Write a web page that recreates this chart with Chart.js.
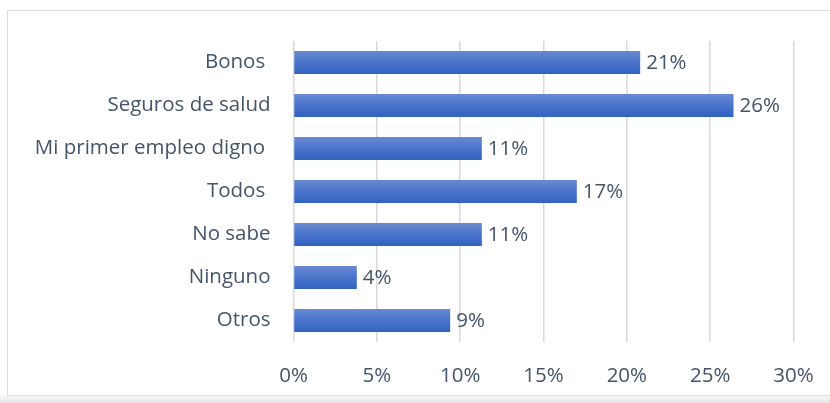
<!DOCTYPE html>
<html>
<head>
<meta charset="utf-8">
<script src="https://cdn.jsdelivr.net/npm/chart.js@4/dist/chart.umd.min.js"></script>
<style>
  html, body { margin: 0; padding: 0; background: #fff; overflow: hidden; }
  #wrap { width: 830px; height: 403px; position: relative; }
  canvas { display: block; }
</style>
</head>
<body>
<div id="wrap"><canvas id="chart"></canvas></div>
<script>
'use strict'

const categories = ['Bonos ', 'Seguros de salud', 'Mi primer empleo digno ', 'Todos ', 'No sabe', 'Ninguno', 'Otros']
const values = [20.8, 26.4, 11.3, 17.0, 11.3, 3.8, 9.4]
const valueLabels = ['21%', '26%', '11%', '17%', '11%', '4%', '9%']
const xTicks = [0, 5, 10, 15, 20, 25, 30]

const textColor = '#44546A'
const fontFamily = '"Open Sans", "Noto Sans", sans-serif'
const fontSize = 20.5

// gradiente vertical por barra
function barGradient(context) {
    const chart = context.chart
    const yScale = chart.scales.y
    if (!yScale || context.dataIndex === undefined) return '#4472C4'
    const y = yScale.getPixelForValue(context.dataIndex)
    if (!isFinite(y)) return '#4472C4'
    const g = chart.ctx.createLinearGradient(0, y - 12, 0, y + 12)
    g.addColorStop(0, '#6A8AD2')
    g.addColorStop(0.5, '#4A74CB')
    g.addColorStop(1, '#2F62C0')
    return g
}

const framePlugin = {
    id: 'frame',
    beforeDraw(chart) {
        const ctx = chart.ctx
        ctx.save()
        const shade = ctx.createLinearGradient(0, 393, 0, 403)
        shade.addColorStop(0, '#ffffff')
        shade.addColorStop(1, '#e4e4e4')
        ctx.fillStyle = shade
        ctx.fillRect(0, 393, 830, 10)
        ctx.fillStyle = '#ffffff'
        ctx.fillRect(7, 10, 830, 385)
        ctx.strokeStyle = '#dcdcdc'
        ctx.lineWidth = 1
        ctx.strokeRect(7.5, 10.5, 830, 385)
        ctx.restore()
    }
}

const valueLabelPlugin = {
    id: 'valueLabels',
    afterDatasetsDraw(chart) {
        const ctx = chart.ctx
        const meta = chart.getDatasetMeta(0)
        ctx.save()
        ctx.font = `${fontSize}px ${fontFamily}`
        ctx.fillStyle = textColor
        ctx.textAlign = 'left'
        ctx.textBaseline = 'middle'
        meta.data.forEach((bar, i) => {
            ctx.fillText(valueLabels[i], bar.x + 6, bar.y + 1)
        })
        ctx.restore()
    }
}

const config = {
    type: 'bar',
    data: {
        labels: categories,
        datasets: [{
            data: values,
            backgroundColor: barGradient,
            borderWidth: 0,
            categoryPercentage: 1,
            barPercentage: 0.535
        }]
    },
    options: {
        indexAxis: 'y',
        responsive: true,
        maintainAspectRatio: false,
        animation: false,
        layout: { padding: { top: 41, right: 36.5, bottom: 0, left: 0 } },
        plugins: {
            legend: { display: false },
            tooltip: { enabled: false }
        },
        scales: {
            x: {
                min: 0,
                max: 30,
                afterBuildTicks: (scale) => { scale.ticks = xTicks.map(v => ({ value: v })) },
                afterFit: (scale) => {
                    scale.height = 61
                    scale.paddingLeft = 0
                    scale.paddingRight = 0
                },
                grid: { color: '#d9d9d9', lineWidth: 1.5, drawTicks: false },
                border: { display: false },
                ticks: {
                    padding: 22,
                    maxRotation: 0,
                    color: textColor,
                    font: { size: fontSize, family: fontFamily },
                    callback: (v) => v + '%'
                }
            },
            y: {
                grid: { display: false, drawTicks: false },
                border: { display: false },
                afterFit: (scale) => {
                    scale.width = 293.5
                    scale.paddingTop = 0
                    scale.paddingBottom = 0
                },
                ticks: {
                    padding: 23,
                    color: textColor,
                    font: { size: fontSize, family: fontFamily }
                }
            }
        }
    },
    plugins: [framePlugin, valueLabelPlugin]
}

new Chart(document.getElementById('chart'), config)
</script>
</body>
</html>
